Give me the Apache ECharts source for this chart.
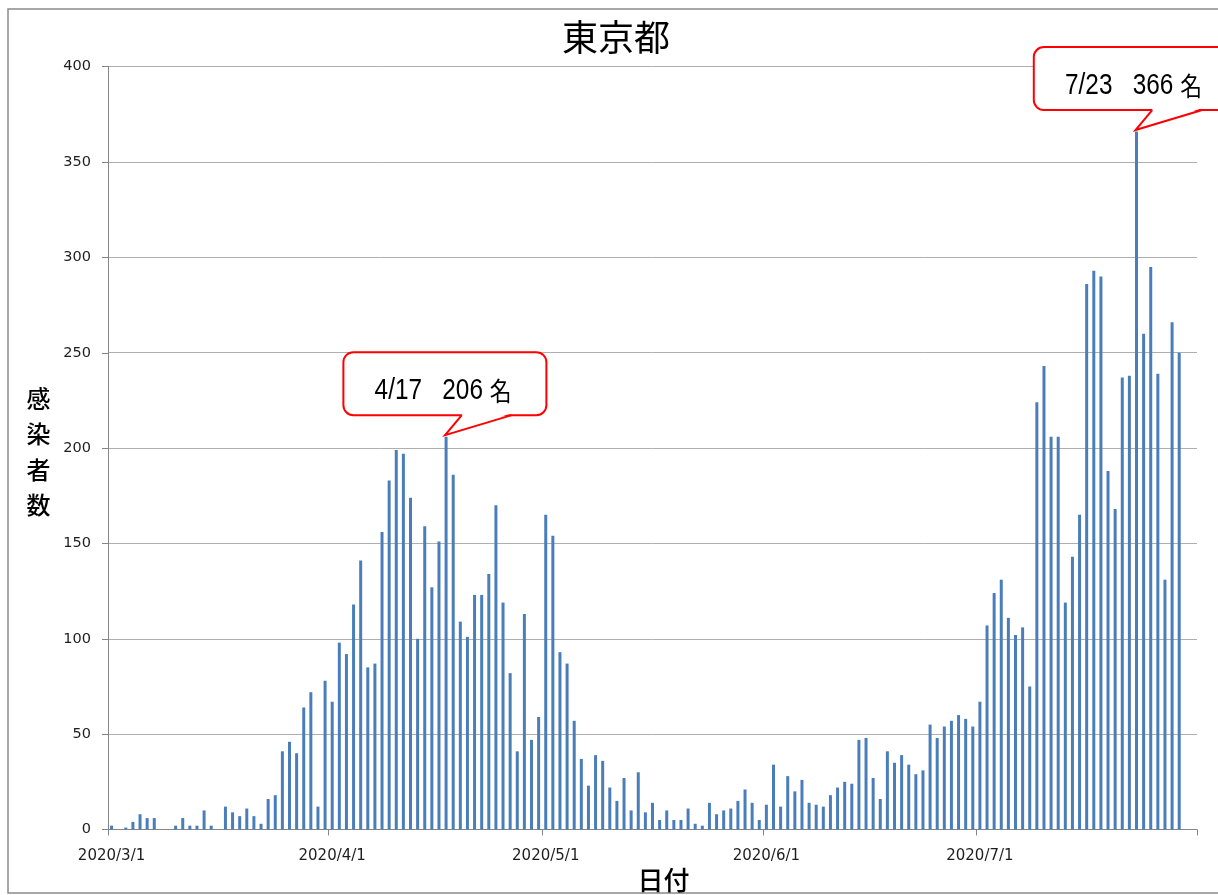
<!DOCTYPE html>
<html>
<head>
<meta charset="utf-8">
<script src="https://cdn.jsdelivr.net/npm/echarts@6/dist/echarts.min.js"></script>
<style>
html,body{margin:0;padding:0;background:#ffffff;}
#chart{width:1218px;height:895px;}
</style>
</head>
<body>
<div id="chart"></div>
<script>
// ---- data ----
const chartTitle = '東京都';
const yAxisTitle = '感染者数';
const xAxisTitle = '日付';
const year = 2020;
const monthNumbers = [3, 4, 5, 6, 7];
const monthLengths = [31, 30, 31, 30, 31];

const marchCases = [2,0,1,4,8,6,6,0,0,2,6,2,2,10,2,0,12,9,7,11,7,3,16,18,41,46,40,64,72,12,78];
const aprilCases = [67,98,92,118,141,85,87,156,183,199,197,174,100,159,127,151,206,186,109,101,123,123,134,170,119,82,41,113,47,59];
const mayCases = [165,154,93,87,57,37,23,39,36,22,15,27,10,30,9,14,5,10,5,5,11,3,2,14,8,10,11,15,21,14,5];
const juneCases = [13,34,12,28,20,26,14,13,12,18,22,25,24,47,48,27,16,41,35,39,34,29,31,55,48,54,57,60,58,54];
const julyCases = [67,107,124,131,111,102,106,75,224,243,206,206,119,143,165,286,293,290,188,168,237,238,366,260,295,239,131,266,250];

const yMin = 0, yMax = 400, yStep = 50;

const callouts = [
  { date: '2020/4/17', label: '4/17   206 ' },
  { date: '2020/7/23', label: '7/23   366 ' }
];
const calloutUnit = '名';

// ---- build category axis and series ----
const monthly = [marchCases, aprilCases, mayCases, juneCases, julyCases];
const categories = [];
const values = [];
monthNumbers.forEach((m, mi) => {
  for (let d = 1; d <= monthLengths[mi]; d++) {
    categories.push(year + '/' + m + '/' + d);
    const v = monthly[mi][d - 1];
    values.push(v === undefined ? null : v);
  }
});
const valueByDate = {};
categories.forEach((c, i) => { valueByDate[c] = values[i]; });

const isMonthStart = (idx, val) => String(val).endsWith('/1');

const chart = echarts.init(document.getElementById('chart'), null, { renderer: 'canvas' });

const baseGraphics = [
  { type: 'rect', silent: true, z: 0,
    shape: { x: 8, y: 9, width: 1300, height: 884 },
    style: { fill: 'none', stroke: '#8a8a8a', lineWidth: 1.5 } },
  { type: 'text', z: 10, x: 616, y: 37,
    style: { text: chartTitle, align: 'center', verticalAlign: 'middle',
      fontFamily: '"Noto Sans CJK JP"', fontSize: 36, fontWeight: 'normal', fill: '#000' } },
  { type: 'text', z: 10, x: 38.5, y: 452,
    style: { text: yAxisTitle.split('').join('\n'), align: 'center', verticalAlign: 'middle',
      fontFamily: '"Noto Sans CJK JP"', fontSize: 24, lineHeight: 35.5, fontWeight: 500, fill: '#000' } },
  { type: 'text', z: 10, x: 663.5, y: 880,
    style: { text: xAxisTitle, align: 'center', verticalAlign: 'middle',
      fontFamily: '"Noto Sans CJK JP"', fontSize: 26, fontWeight: 500, fill: '#000' } }
];

chart.setOption({
  animation: false,
  backgroundColor: '#ffffff',
  grid: { left: 108, right: 21, top: 66.7, bottom: 65.5, containLabel: false },
  xAxis: {
    type: 'category',
    data: categories,
    boundaryGap: true,
    axisLine: { show: true, lineStyle: { color: '#868686', width: 1 } },
    axisTick: { show: true, interval: isMonthStart, alignWithLabel: false, length: 6,
      lineStyle: { color: '#868686', width: 1 } },
    axisLabel: { interval: isMonthStart, margin: 19, fontFamily: '"DejaVu Sans"', fontSize: 15, color: '#1e1e1e' },
    splitLine: { show: false }
  },
  yAxis: {
    type: 'value',
    min: yMin, max: yMax, interval: yStep,
    axisLine: { show: true, lineStyle: { color: '#868686', width: 1 } },
    axisTick: { show: true, length: 6, lineStyle: { color: '#868686', width: 1 } },
    axisLabel: { margin: 17, fontFamily: '"DejaVu Sans"', fontSize: 14.5, color: '#1e1e1e' },
    splitLine: { show: true, lineStyle: { color: '#afafaf', width: 1 } }
  },
  series: [{
    type: 'bar',
    data: values,
    barWidth: 3,
    itemStyle: { color: '#4a7ebb' },
    emphasis: { disabled: true }
  }],
  graphic: baseGraphics
});

// ---- callouts positioned from the library's own scales ----
const calloutGraphics = [];
callouts.forEach((c) => {
  const p = chart.convertToPixel({ seriesIndex: 0 }, [c.date, valueByDate[c.date]]);
  const tipX = p[0] - 1, tipY = p[1] - 1.5;
  const left = tipX - 101.7, width = 203, top = tipY - 83, height = 63;
  const bottom = top + height;
  const baseL = tipX + 16.7, baseR = tipX + 66.7;
  calloutGraphics.push(
    { type: 'rect', z: 20, shape: { x: left, y: top, width: width, height: height, r: 10 },
      style: { fill: '#ffffff', stroke: '#ff0000', lineWidth: 2 } },
    { type: 'polygon', z: 21, shape: { points: [[baseL + 1, bottom - 1.6], [tipX, tipY], [baseR - 1, bottom - 1.6]] },
      style: { fill: '#ffffff', stroke: 'none' } },
    { type: 'polyline', z: 22, shape: { points: [[baseL, bottom], [tipX, tipY], [baseR, bottom]] },
      style: { fill: 'none', stroke: '#ff0000', lineWidth: 2, lineJoin: 'miter' } },
    { type: 'text', z: 23, x: tipX - 2, y: tipY - 44, scaleX: 0.84,
      style: { x: 0, y: 0, text: c.label + '{k|' + calloutUnit + '}', align: 'center', verticalAlign: 'middle',
        fontFamily: '"Liberation Sans"', fontSize: 29, fill: '#000',
        rich: { k: { fontFamily: '"Noto Sans CJK JP"', fontSize: 26, fill: '#000' } } } }
  );
});

chart.setOption({ graphic: baseGraphics.concat(calloutGraphics) }, { replaceMerge: ['graphic'] });
</script>
</body>
</html>
